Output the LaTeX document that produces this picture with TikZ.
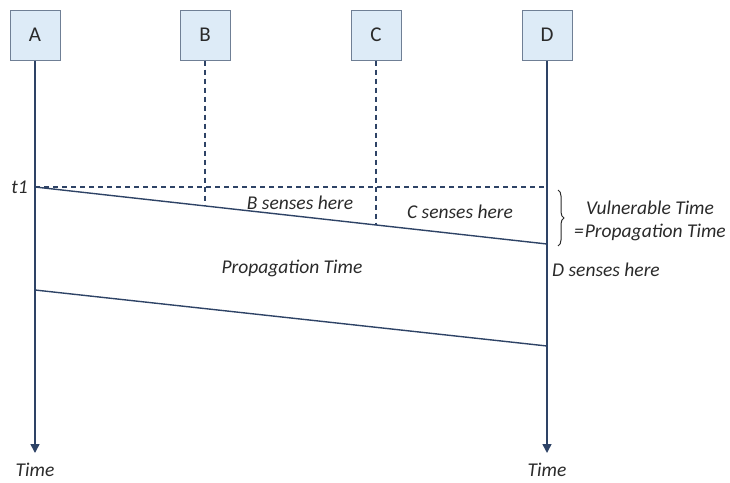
\documentclass[tikz,border=0pt]{standalone}
\usepackage{fontspec}
\setmainfont{Carlito}
\usetikzlibrary{arrows.meta,decorations.pathreplacing}
\definecolor{boxfill}{HTML}{DDEBF7}
\definecolor{boxline}{HTML}{6F7F95}
\definecolor{lineblue}{HTML}{2E4366}
\definecolor{txt}{HTML}{2A2A2A}
\tikzset{
  station/.style={draw=boxline, fill=boxfill, line width=1pt, minimum width=50pt, minimum height=50pt, inner sep=0pt, font=\fontsize{21}{24}\selectfont, text=txt},
  lifeline/.style={draw=lineblue, line width=1.5pt},
  sense/.style={draw=lineblue, line width=1.1pt, dash pattern=on 5pt off 4pt},
  signal/.style={draw=lineblue, line width=1.4pt},
  lbl/.style={font=\fontsize{19.5}{23}\selectfont\itshape, text=txt, inner sep=0pt},
  tip/.style={-{Triangle[length=9pt,width=9pt]}}
}
\begin{document}
\begin{tikzpicture}[x=1pt,y=-1pt]
\useasboundingbox (0,0) rectangle (730,482);
\node[station] (A) at (35,35) {A};
\node[station] (B) at (205,35) {B};
\node[station] (C) at (376,35) {C};
\node[station] (D) at (547,35) {D};
\coordinate (Aend) at (35,453);
\coordinate (Dend) at (547,453);
\coordinate (t1) at (35,187);
\coordinate (Dt1) at (547,187);
\coordinate (s1) at (547,244);
\coordinate (Bs) at (205,206);
\coordinate (Cs) at (376,225);
\coordinate (p0) at (35,290);
\coordinate (p1) at (547,346);
\draw[lifeline,tip] (A.south) -- (Aend);
\draw[lifeline,tip] (D.south) -- (Dend);
\draw[sense] (B.south) -- (Bs);
\draw[sense] (C.south) -- (Cs);
\draw[sense] (t1) -- (Dt1);
\draw[signal] (t1) -- (s1);
\draw[signal] (p0) -- (p1);
\draw[draw=txt, line width=1pt, decorate, decoration={brace, amplitude=6pt}] (558,190) -- (558,246);
\node[lbl, anchor=east] (t1l) at (28,187) {t1};
\node[lbl] (bl) at (300,203) {B senses here};
\node[lbl] (cl) at (460,212) {C senses here};
\node[lbl, anchor=west] (dl) at (552,270) {D senses here};
\node[lbl] (pl) at (292,268) {Propagation Time};
\node[lbl, align=center] (vl) at (650,221) {Vulnerable Time\\=\kern1pt Propagation Time};
\node[lbl] (ta) at (35,470) {Time};
\node[lbl] (td) at (547,470) {Time};
\end{tikzpicture}
\end{document}
